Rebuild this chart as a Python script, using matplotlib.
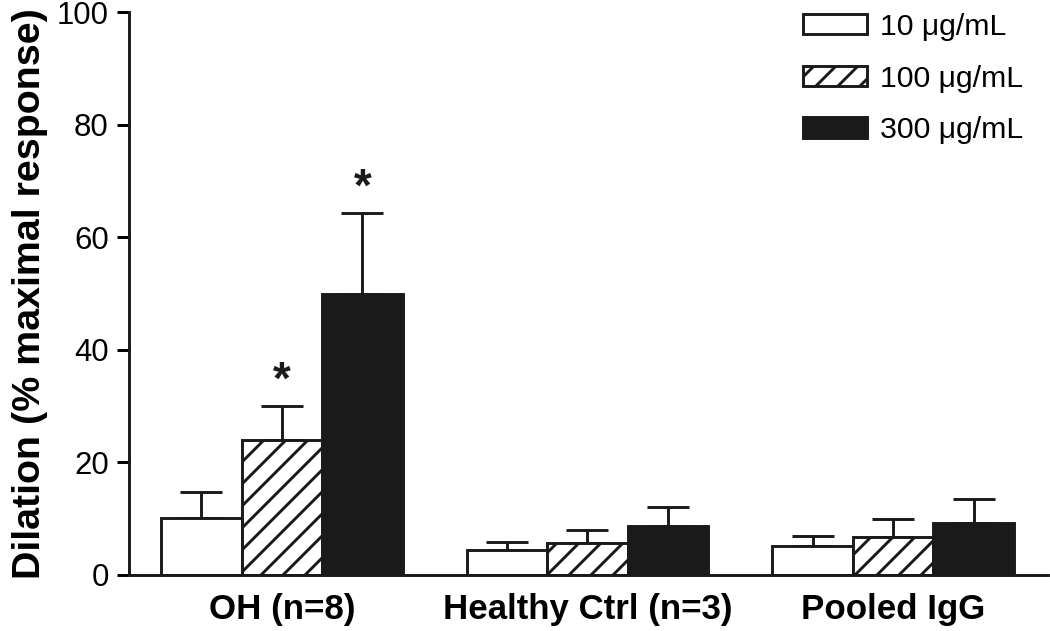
import matplotlib.pyplot as plt
import numpy as np

groups = ["OH (n=8)", "Healthy Ctrl (n=3)", "Pooled IgG"]
doses = ["10 μg/mL", "100 μg/mL", "300 μg/mL"]

mean_10 = [10.1, 4.5, 5.2]
mean_100 = [24.0, 5.7, 6.8]
mean_300 = [50.0, 8.7, 9.2]

sem_10 = [4.7, 1.4, 1.8]
sem_100 = [6.0, 2.3, 3.1]
sem_300 = [14.3, 3.4, 4.3]

# significance markers per dose (group indices)
sig_100 = [0]
sig_300 = [0]

DPI = 132
plt.rcParams["font.family"] = ["Liberation Sans", "DejaVu Sans"]
plt.rcParams["hatch.linewidth"] = 1.6


def main():
    fig = plt.figure(figsize=(1050 / DPI, 631 / DPI), dpi=DPI)
    ax = fig.add_axes([129 / 1050, 56 / 631, 919 / 1050, 563 / 631])

    x = np.arange(len(groups))
    w = 0.2635
    lw = 1.6

    styles = [
        dict(facecolor="white", hatch=None),
        dict(facecolor="white", hatch="//"),
        dict(facecolor="#1a1a1a", hatch=None),
    ]
    means = [mean_10, mean_100, mean_300]
    sems = [sem_10, sem_100, sem_300]
    sigs = [[], sig_100, sig_300]

    for i, (m, e, st, lab) in enumerate(zip(means, sems, styles, doses)):
        pos = x + (i - 1) * w
        ax.bar(pos, m, width=w, edgecolor="#1a1a1a", linewidth=lw,
               label=lab, zorder=2, **st)
        ax.errorbar(pos, m, yerr=[np.zeros(len(m)), e], fmt="none",
                    ecolor="#1a1a1a", elinewidth=lw, capsize=11.5,
                    capthick=lw, zorder=1)
        for g in sigs[i]:
            ax.text(pos[g], m[g] + e[g] + 0.4, "*", ha="center", va="bottom",
                    fontsize=25, fontweight="bold", color="#1a1a1a")

    ax.set_xlim(-0.5, 2.507)
    ax.set_ylim(0, 100)
    ax.set_yticks([0, 20, 40, 60, 80, 100])
    ax.set_xticks(x)
    ax.set_xticklabels(groups, fontsize=19, fontweight="bold")
    ax.tick_params(axis="x", length=0, pad=10)
    ax.tick_params(axis="y", labelsize=17, width=lw, length=6.5, pad=4.5)
    ax.set_ylabel("Dilation (% maximal response)", fontsize=21.5,
                  fontweight="bold", labelpad=5)

    for s in ["top", "right"]:
        ax.spines[s].set_visible(False)
    for s in ["left", "bottom"]:
        ax.spines[s].set_linewidth(lw)
        ax.spines[s].set_color("#1a1a1a")

    ax.legend(loc="upper left", bbox_to_anchor=(803 / 1050, 1 - 13 / 631),
              bbox_transform=fig.transFigure, frameon=False, fontsize=16.5,
              borderpad=0, borderaxespad=0, handlelength=2.1,
              handleheight=0.65, handletextpad=0.45, labelspacing=0.78)

    fig.savefig("out.png", dpi=DPI)


if __name__ == "__main__":
    main()
